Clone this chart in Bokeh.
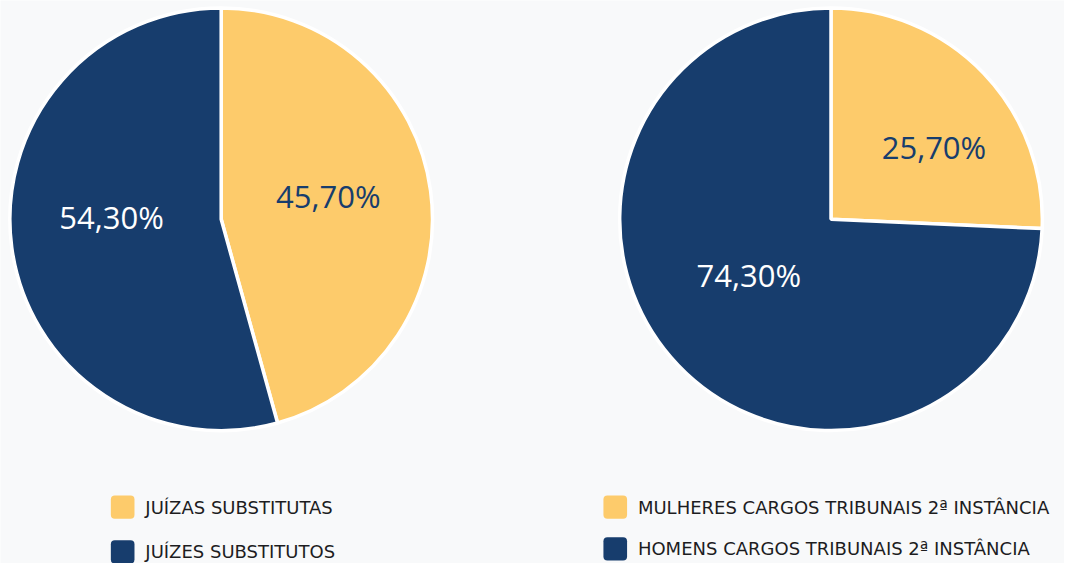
import numpy as np
from bokeh.plotting import figure
from bokeh.models import Range1d, ColumnDataSource, Quad
from bokeh.embed import file_html
from bokeh.resources import INLINE
from bokeh.core.properties import value

# ---------------- data ----------------
left_labels = ["JUÍZAS SUBSTITUTAS", "JUÍZES SUBSTITUTOS"]
left_values = [45.7, 54.3]
right_labels = ["MULHERES CARGOS TRIBUNAIS 2ª INSTÂNCIA", "HOMENS CARGOS TRIBUNAIS 2ª INSTÂNCIA"]
right_values = [25.7, 74.3]

# ---------------- style ----------------
COLORS = ["#fdcb6b", "#173d6d"]
TEXT_COLORS = ["#173d6d", "#ffffff"]
BG = "#f8f9fa"
FONT = "Open Sans"
LEG_FONT = "DejaVu Sans"

W, H = 1064, 563
REF_W, REF_H = 1080, 579
p = figure(width=W, height=H, x_range=Range1d(0, REF_W), y_range=Range1d(0, REF_H),
           output_backend="svg", toolbar_location=None, min_border=0)
p.axis.visible = False
p.grid.visible = False
p.outline_line_color = None
p.background_fill_color = BG
p.border_fill_color = BG


def sy(y):
    # reference y (top-down) -> data y
    return REF_H - y


def fmt(v):
    return f"{v:.2f}%".replace(".", ",")


def pie(cx, cy, r, values, nudges):
    fr = np.array(values, dtype=float) / sum(values)
    cum = np.concatenate([[0.0], np.cumsum(fr)])
    end = np.pi / 2 - 2 * np.pi * cum[:-1]
    start = np.pi / 2 - 2 * np.pi * cum[1:]
    src = ColumnDataSource(dict(start=start, end=end, color=COLORS))
    p.wedge(x=cx, y=sy(cy), radius=r, start_angle="start", end_angle="end",
            fill_color="color", line_color="white", line_width=3.5, source=src)
    mid = (start + end) / 2
    lr = 0.5 * r
    lx = cx + lr * np.cos(mid) + np.array([n[0] for n in nudges])
    ly = sy(cy) + lr * np.sin(mid) + np.array([n[1] for n in nudges])
    tsrc = ColumnDataSource(dict(x=lx, y=ly, t=[fmt(v) for v in values], c=TEXT_COLORS))
    p.text(x="x", y="y", text="t", text_color="c", source=tsrc,
           text_font=value(FONT), text_font_size="31px",
           text_align="center", text_baseline="middle")


pie(224, 225, 214.5, left_values, [(2.5, 9), (-5, 17)])
pie(843, 225, 214.5, right_values, [(27, 0), (-6, 17)])


def legend(x0, rows_y, labels):
    has_radius = "border_radius" in Quad.properties()
    for i, (lab, yy) in enumerate(zip(labels, rows_y)):
        kw = dict(left=x0, right=x0 + 24, top=sy(yy - 12), bottom=sy(yy + 12),
                  fill_color=COLORS[i], line_color=None)
        if has_radius:
            kw["border_radius"] = 4
        p.quad(**kw)
        p.text(x=[x0 + 35], y=[sy(yy)], text=[lab], text_color="#1d1d1f",
               text_font=value(LEG_FONT), text_font_size="18px",
               text_align="left", text_baseline="middle")


legend(112, [521, 567], left_labels)
legend(612, [521, 564], right_labels)

open("out.html", "w").write(file_html(p, INLINE))
